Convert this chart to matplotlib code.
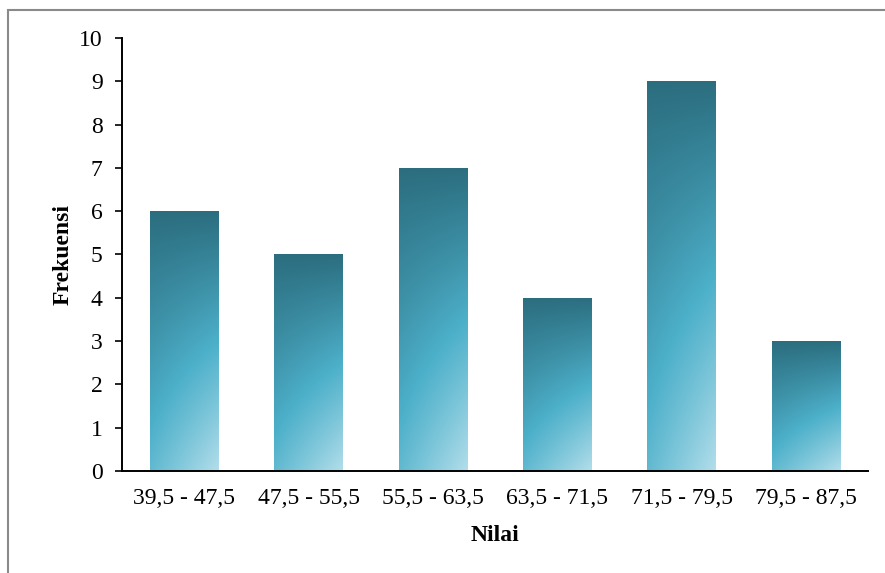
import numpy as np
import matplotlib
matplotlib.use('Agg')
import matplotlib.pyplot as plt
from matplotlib.patches import Rectangle

kelas = ['39,5 - 47,5', '47,5 - 55,5', '55,5 - 63,5', '63,5 - 71,5', '71,5 - 79,5', '79,5 - 87,5']
frekuensi = [6, 5, 7, 4, 9, 3]

plt.rcParams['font.family'] = ['Liberation Serif', 'DejaVu Serif']

# gradient used inside every bar: dark teal at top, lighter to the bottom right
dark = np.array([0.17, 0.43, 0.50])
mid = np.array([0.30, 0.69, 0.79])
light = np.array([0.70, 0.87, 0.92])
ny, nx = 200, 60
t = np.linspace(1, 0, ny)[:, None]     # 1 top, 0 bottom
s = np.linspace(0, 1, nx)[None, :]
u = (1 - t) * (0.6 + 0.4 * s)
u = u[..., None]
grad = np.where(u < 0.5, dark + (mid - dark) * (u / 0.5),
                mid + (light - mid) * ((u - 0.5) / 0.5))

fig = plt.figure(figsize=(8.85, 5.73), dpi=100)
ax = fig.add_axes([0.1379, 0.178, 0.981 - 0.1379, 0.9337 - 0.178])

x = np.arange(len(kelas))
w = 0.55
bars = ax.bar(x, frekuensi, width=w, color='none', edgecolor='none')
for b in bars:
    x0, y0 = b.get_x(), b.get_y()
    im = ax.imshow(grad, extent=[x0, x0 + b.get_width(), y0, y0 + b.get_height()],
                   aspect='auto', interpolation='bilinear', zorder=2)
    im.set_clip_path(b)

ax.set_xlim(-0.5, len(kelas) - 0.5)
ax.set_ylim(0, 10)
ax.set_yticks(range(0, 11))
ax.set_xticks(x)
ax.set_xticklabels(kelas)
ax.tick_params(axis='y', labelsize=17, length=5, width=1.2, pad=9)
ax.tick_params(axis='x', labelsize=17, length=0, pad=12)
for sp in ['top', 'right']:
    ax.spines[sp].set_visible(False)
for sp in ['left', 'bottom']:
    ax.spines[sp].set_linewidth(1.4)

ax.set_ylabel('Frekuensi', fontsize=17, fontweight='bold', labelpad=4)
ax.set_xlabel('Nilai', fontsize=17, fontweight='bold', labelpad=12)

# grey frame around the chart
fig.patches.append(Rectangle((8 / 885, -0.1), 1.2, 1 - 10 / 573 + 0.1,
                             transform=fig.transFigure, fill=False,
                             edgecolor='#8a8a8a', linewidth=1.5))

fig.savefig('out.png', dpi=100)
